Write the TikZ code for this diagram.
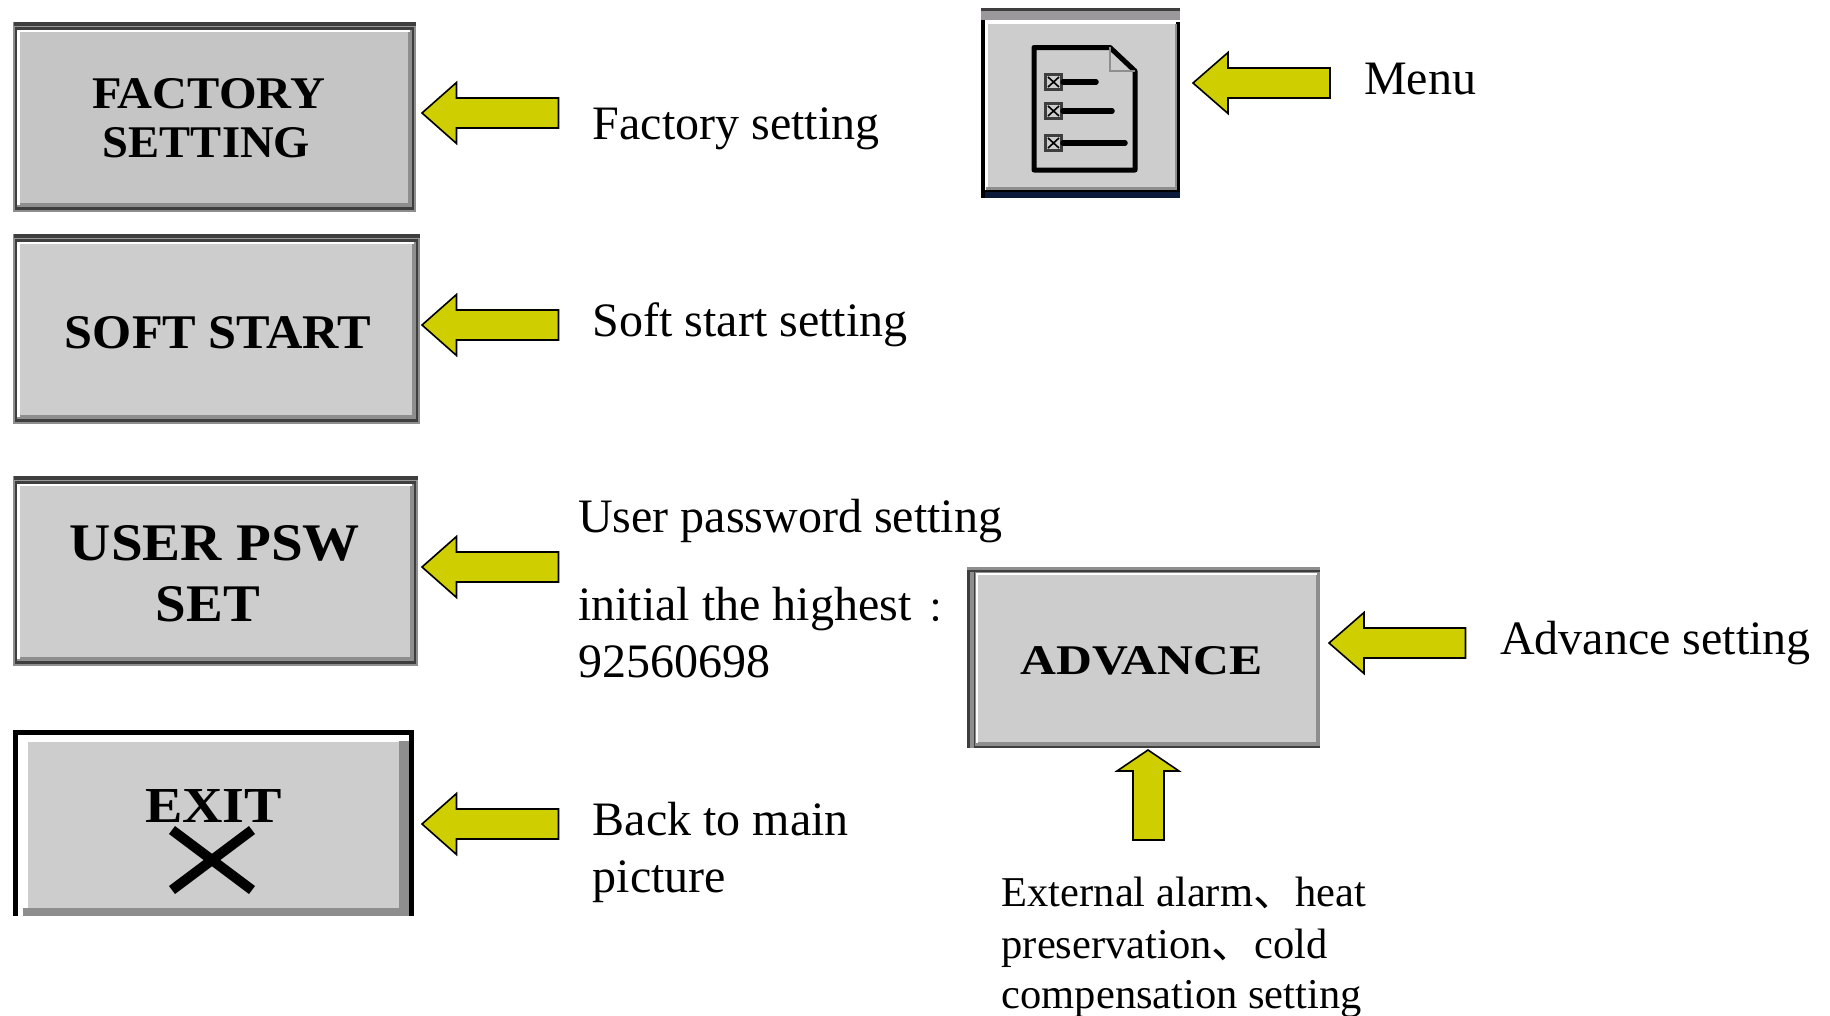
\documentclass[tikz,border=0pt]{standalone}
\usepackage{fontspec}
\setmainfont{Liberation Serif}
\newfontfamily\cjkf{Noto Sans CJK SC}
\definecolor{arrowfill}{HTML}{CFCE00}
\definecolor{btnA}{HTML}{C5C5C5}
\definecolor{btnB}{HTML}{CDCDCD}
\definecolor{edgeD}{HTML}{3E3E3E}
\definecolor{edgeG}{HTML}{8E8E8E}
\definecolor{bandG}{HTML}{9A989A}
\definecolor{navy}{HTML}{0A1A38}
\tikzset{
  blockarrow/.style={draw=black,fill=arrowfill,line width=1.6pt,line join=miter},
  lab/.style={anchor=base west,inner sep=0pt,font=\fontsize{48}{48}\selectfont},
  labsmall/.style={anchor=base west,inner sep=0pt,font=\fontsize{42.5}{43}\selectfont},
  captext/.style={anchor=base,inner sep=0pt,font=\bfseries\fontsize{40}{40}\selectfont},
  iconline/.style={draw=black,line cap=round},
}
% left-pointing arrow: tip x, head base x, tail x, centre y
\newcommand{\larrow}[4]{\draw[blockarrow] (#1,#4) -- (#2,#4-30.5) -- (#2,#4-15) -- (#3,#4-15) -- (#3,#4+15) -- (#2,#4+15) -- (#2,#4+30.5) -- cycle;}
% bevelled button: x0 y0 x1 y1 fill
\newcommand{\bevelbtn}[5]{%
  \fill[edgeG] (#1,#2) rectangle (#3,#4);
  \fill[edgeD] (#1+1,#2) rectangle (#3,#2+4);
  \fill[bandG] (#1+1,#2+4) rectangle (#3,#2+5);
  \fill[edgeD] (#1+1.5,#2+5) rectangle (#3-2,#4-2);
  \fill[edgeG] (#1+4,#2+8) rectangle (#3-4,#4-5);
  \fill[white] (#1+4,#2+8) rectangle (#3-6,#2+10);
  \fill[white] (#1+4,#2+8) rectangle (#1+7,#4-7);
  \fill[#5] (#1+7,#2+10) rectangle (#3-8,#4-9);
}
\begin{document}
\begin{tikzpicture}[x=1pt,y=-1pt]
\useasboundingbox (0,0) rectangle (1830,1015);
\fill[white] (0,0) rectangle (1830,1015);

% FACTORY SETTING
\bevelbtn{13}{22}{416}{212}{btnA}
\node[captext] (fac1) at (208.5,108) {\resizebox{233pt}{30pt}{FACTORY}};
\node[captext] (fac2) at (206.5,157) {\resizebox{207pt}{30pt}{SETTING}};
\larrow{422}{456.5}{558.5}{113}
\node[lab] (tfac) at (592.5,139.5) {Factory setting};

% SOFT START
\bevelbtn{13}{234}{420}{424}{btnB}
\node[captext] (soft) at (218,348) {\resizebox{306pt}{32pt}{SOFT START}};
\larrow{422}{456.5}{558.5}{325}
\node[lab] (tsoft) at (592.5,336.5) {Soft start setting};

% USER PSW SET
\bevelbtn{13}{476}{417.5}{666}{btnB}
\node[captext] (usr1) at (215,560) {\resizebox{290pt}{35pt}{USER PSW}};
\node[captext] (usr2) at (208,621) {\resizebox{104pt}{35pt}{SET}};
\larrow{422}{456.5}{558.5}{567}
\node[lab] (tusr1) at (578,532.5) {User password setting};
\node[lab] (tusr2) at (578,620) {initial the highest {\kern4pt\cjkf\fontsize{34}{34}\selectfont\raisebox{-1pt}{：}}};
\node[lab] (tusr3) at (578,677) {92560698};

% EXIT
\fill[black] (13,730) rectangle (414,916);
\fill[white] (18,735) rectangle (409,916);
\fill[edgeG] (23,908) rectangle (409,916);
\fill[edgeG] (399,741) rectangle (409,916);
\fill[btnB] (28,742) rectangle (399,908);
\node[captext] (exit) at (213.5,822) {\resizebox{137pt}{33pt}{EXIT}};
\draw[black,line width=10pt] (172,830) -- (252,890);
\draw[black,line width=10pt] (252,830) -- (172,890);
\larrow{422}{456.5}{558.5}{824}
\node[lab] (tex1) at (592.5,835.5) {Back to main};
\node[lab] (tex2) at (592.5,892.5) {picture};

% MENU
\fill[edgeD] (981,8) rectangle (1180,11);
\fill[bandG] (981,11) rectangle (1180,20);
\fill[white] (981,20) rectangle (1180,198);
\fill[black] (981,20) rectangle (985,198);
\fill[black] (1176,22) rectangle (1180,192);
\fill[edgeG] (986,187) rectangle (1176,190);
\fill[edgeG] (1175,24) rectangle (1177,190);
\fill[black] (985,190) rectangle (1180,192);
\fill[navy] (985,192) rectangle (1180,198);
\fill[black] (981,192) rectangle (985,198);
\fill[btnB] (988,24) rectangle (1175,187);
\draw[black,line width=5pt,line join=round] (1110,47.5) -- (1034,47.5) -- (1034,170) -- (1135,170) -- (1135,71) -- cycle;
\draw[edgeG,line width=1.5pt] (1110,47) -- (1110,71) -- (1135,71);
\foreach \yy/\xe in {82/1096,111/1112,143/1125}{
  \fill[edgeD] (1044,\yy-9) rectangle (1063,\yy+9);
  \fill[btnB] (1047,\yy-6) rectangle (1060,\yy+6);
  \draw[black,line width=1.6pt] (1048,\yy-5) -- (1059,\yy+5) (1048,\yy+5) -- (1059,\yy-5);
  \draw[iconline,line width=5.5pt] (1063,\yy) -- (\xe,\yy);
}
\larrow{1193}{1228}{1330}{83}
\node[lab] (tmenu) at (1364,94.5) {Menu};

% ADVANCE
\fill[edgeG] (967,567) rectangle (1320,748);
\fill[edgeD] (967,570) rectangle (1320,572);
\fill[edgeD] (967,570) rectangle (970,748);
\fill[edgeD] (974,570) rectangle (975,748);
\fill[edgeG] (975,573) rectangle (1320,745);
\fill[white] (975.5,573) rectangle (1317,575);
\fill[white] (975.5,573) rectangle (978,743);
\fill[edgeD] (974,745.5) rectangle (1320,748);
\fill[btnB] (978,575) rectangle (1316,742);
\node[captext] (adv) at (1141.5,674) {\resizebox{242pt}{28pt}{ADVANCE}};
\larrow{1329}{1364}{1465.5}{643}
\node[lab] (tadv) at (1500,654.5) {Advance setting};

\draw[blockarrow] (1148,750) -- (1179,771) -- (1164,771) -- (1164,840) -- (1133,840) -- (1133,771) -- (1117,771) -- cycle;
\node[labsmall] (text1) at (1001.5,906) {External alarm{\cjkf 、}heat};
\node[labsmall] (text2) at (1001.5,958) {preservation{\cjkf 、}cold};
\node[labsmall] (text3) at (1001.5,1008) {compensation setting};
\end{tikzpicture}
\end{document}
